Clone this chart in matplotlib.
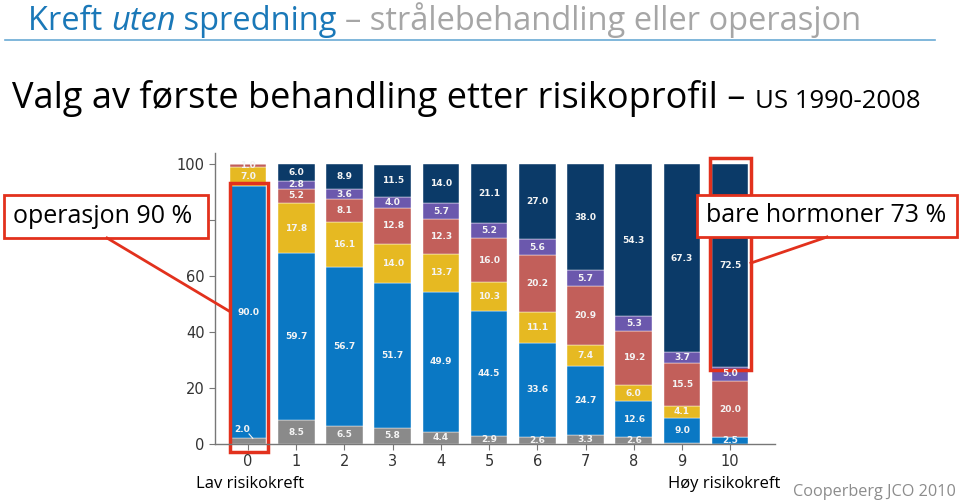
import matplotlib.pyplot as plt
from matplotlib.patches import Rectangle
from matplotlib.lines import Line2D

# risk score 0 (low) .. 10 (high), share of first treatment in %
risk = list(range(11))
watchful = [2.0, 8.5, 6.5, 5.8, 4.4, 2.9, 2.6, 3.3, 2.6, 0.4, 0.0]
surgery = [90.0, 59.7, 56.7, 51.7, 49.9, 44.5, 33.6, 24.7, 12.6, 9.0, 2.5]
brachy = [7.0, 17.8, 16.1, 14.0, 13.7, 10.3, 11.1, 7.4, 6.0, 4.1, 0.0]
ebrt = [1.0, 5.2, 8.1, 12.8, 12.3, 16.0, 20.2, 20.9, 19.2, 15.5, 20.0]
cryo = [0.0, 2.8, 3.6, 4.0, 5.7, 5.2, 5.6, 5.7, 5.3, 3.7, 5.0]
adt = [0.0, 6.0, 8.9, 11.5, 14.0, 21.1, 27.0, 38.0, 54.3, 67.3, 72.5]

series = [watchful, surgery, brachy, ebrt, cryo, adt]
colors = ['#8a8a8a', '#0a78c4', '#e6b922', '#c25f5a', '#6b58ad', '#0b3a68']

# y ticks; the 80 label sits under the callout box in the slide
yticks = [0, 20, 40, 60, 80, 100]
ytick_labels = ['0', '20', '40', '60', '', '100']

W, H = 960, 500


def fx(px):
	return px / W


def fy(py):
	return 1 - py / H


fig = plt.figure(figsize=(9.6, 5), dpi=100)
ax = fig.add_axes([fx(215), fy(444), fx(775 - 215), (444 - 152.8) / H])

bottom = [0.0] * len(risk)
for vals, col in zip(series, colors):
	ax.bar(risk, vals, bottom=bottom, width=0.76, color=col, edgecolor='white', linewidth=0.3)
	for i, v in enumerate(vals):
		if v >= 1.0:
			y = bottom[i] + v / 2
			x = risk[i]
			if i == 0 and vals is watchful:
				y = 5.2
				x = -0.12
			ax.text(x, y, '%.1f' % v, ha='center', va='center', color='#f4f4f4',
					fontsize=6.5, fontweight='bold')
	bottom = [b + v for b, v in zip(bottom, vals)]

ax.plot([0.02, 0.1], [3.6, 2.0], color='#f4f4f4', lw=0.8)

ax.set_xlim(-0.685, 10.93)
ax.set_ylim(0, 104)
ax.set_yticks(yticks)
ax.set_yticklabels(ytick_labels)
ax.set_xticks(risk)
for s in ['top', 'right']:
	ax.spines[s].set_visible(False)
for s in ['left', 'bottom']:
	ax.spines[s].set_color('#777777')
	ax.spines[s].set_linewidth(1.0)
ax.tick_params(axis='both', colors='#777777', labelcolor='#333333', labelsize=10.5, length=4)

red = '#e2311d'
# red highlight rectangles around bars 0 and 10
ax.add_patch(Rectangle((-0.37, -2.9), 0.78, 96.1, fill=False, edgecolor=red, lw=2.5, clip_on=False))
ax.add_patch(Rectangle((9.585, 26.4), 0.85, 75.7, fill=False, edgecolor=red, lw=2.5, clip_on=False))

# callout lines
fig.add_artist(Line2D([fx(107), fx(229)], [fy(238), fy(311)], color=red, lw=2))
fig.add_artist(Line2D([fx(827), fx(751)], [fy(237), fy(263)], color=red, lw=2))
# callout boxes
fig.add_artist(Rectangle((fx(4), fy(238)), fx(208 - 4), (238 - 195) / H, transform=fig.transFigure,
						 facecolor='white', edgecolor=red, lw=2))
fig.add_artist(Rectangle((fx(697), fy(237)), fx(957 - 697), (237 - 195) / H, transform=fig.transFigure,
						 facecolor='white', edgecolor=red, lw=2))
fig.text(fx(103), fy(217), 'operasjon 90 %', ha='center', va='center', fontsize=18, family='Open Sans')
fig.text(fx(826), fy(216), 'bare hormoner 73 %', ha='center', va='center', fontsize=18, family='Open Sans')

# header
renderer = fig.canvas.get_renderer()


def chain(x_px, y_px, parts):
	x = fx(x_px)
	for txt, size, col, style in parts:
		t = fig.text(x, fy(y_px), txt, fontsize=size, color=col, style=style,
					 family='Open Sans', va='baseline', ha='left')
		bb = t.get_window_extent(renderer)
		x = bb.x1 / W


chain(28, 30, [('Kreft ', 23.5, '#1a78b8', 'normal'),
			   ('uten', 23.5, '#1a78b8', 'italic'),
			   (' spredning ', 23.5, '#1a78b8', 'normal'),
			   ('– strålebehandling eller operasjon', 23.5, '#a6a6a6', 'normal')])
fig.add_artist(Line2D([fx(5), fx(935)], [fy(40), fy(40)], color='#6aaad4', lw=1.2))
chain(12, 108, [('Valg av første behandling etter risikoprofil – ', 26, 'black', 'normal'),
				('US 1990-2008', 18.5, 'black', 'normal')])

fig.text(fx(196), fy(488), 'Lav risikokreft', fontsize=12, family='Open Sans', va='baseline')
fig.text(fx(668), fy(488), 'Høy risikokreft', fontsize=12, family='Open Sans', va='baseline')
fig.text(fx(793), fy(496), 'Cooperberg JCO 2010', fontsize=11.7, color='#8c8c8c', family='Open Sans', va='baseline')

fig.savefig('out.png', dpi=100)
